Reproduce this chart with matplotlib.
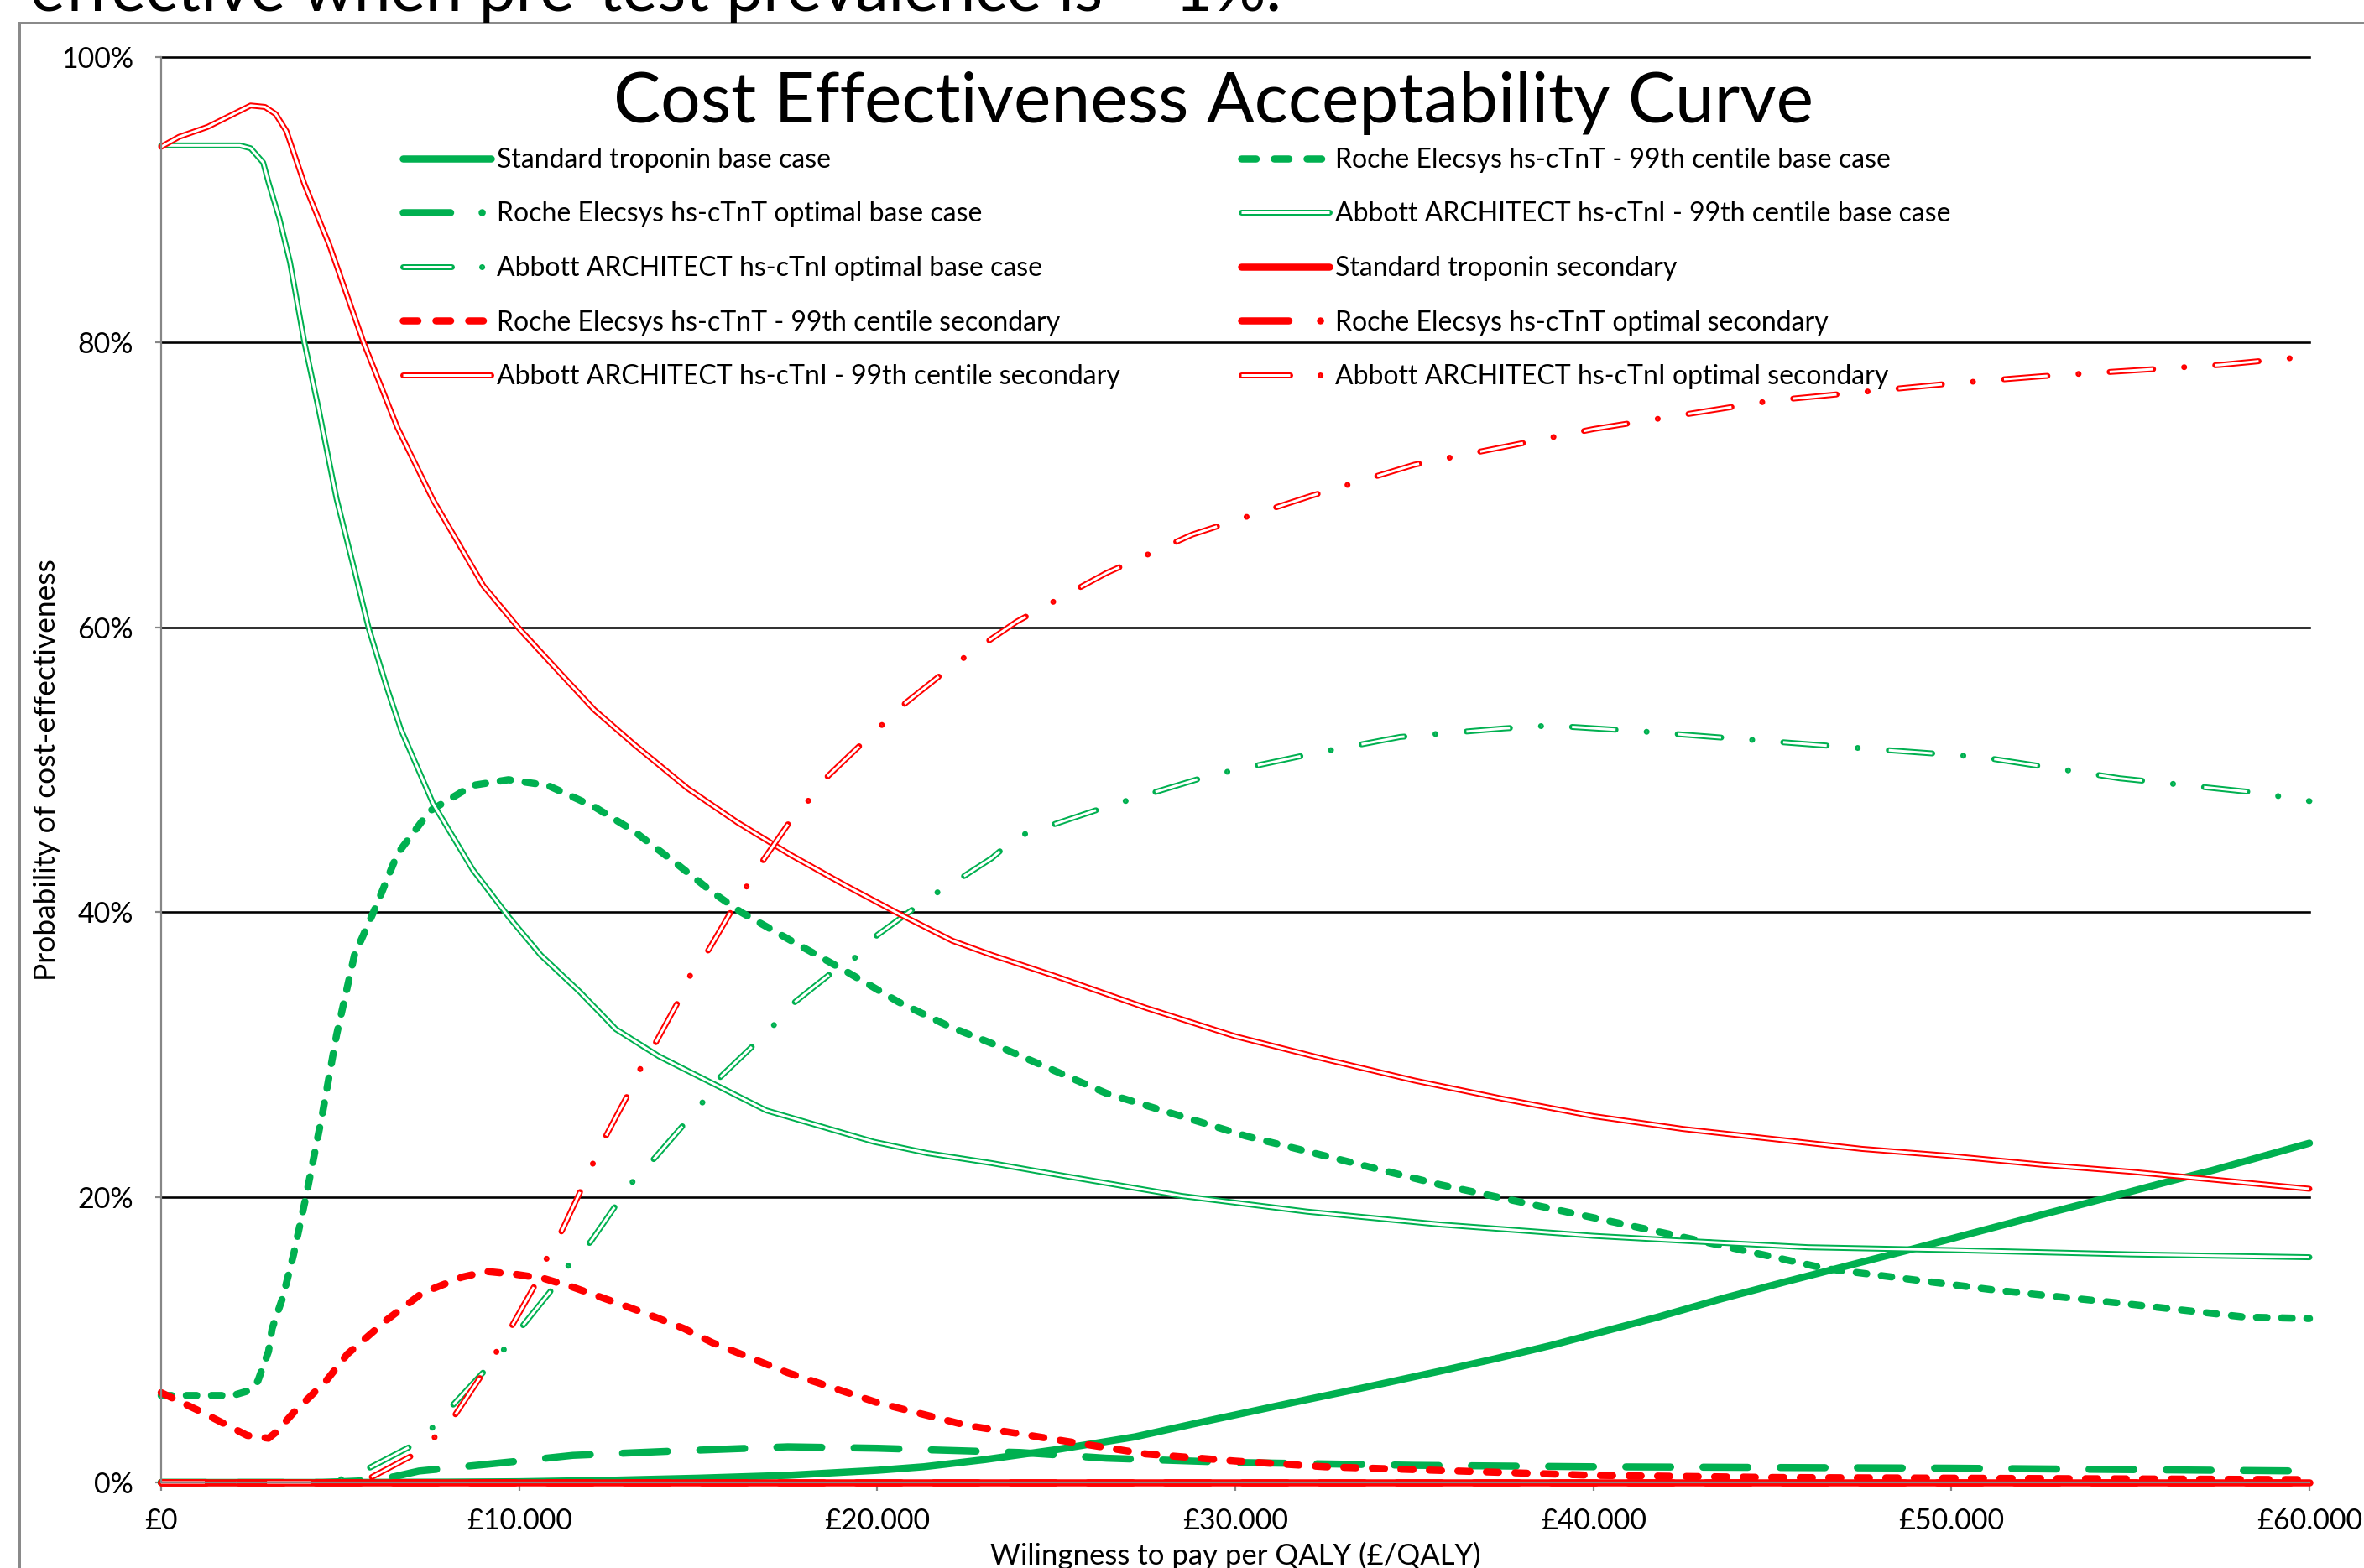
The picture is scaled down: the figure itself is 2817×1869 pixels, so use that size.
import matplotlib
matplotlib.use("Agg")
import matplotlib.pyplot as plt
from matplotlib.lines import Line2D
from matplotlib.patches import Rectangle

plt.rcParams['font.family'] = ['Lato', 'DejaVu Sans']
plt.rcParams['lines.scale_dashes'] = False

W, H = 2817, 1869
PX = 0.72  # points per pixel at dpi 100

GREEN = '#00B050'
RED = '#FF0000'
GREY = '#868686'

# ---- data (willingness to pay in £, probability in %) ----
labels = [
    "Standard troponin base case",
    "Roche Elecsys hs-cTnT - 99th centile base case",
    "Roche Elecsys hs-cTnT optimal base case",
    "Abbott ARCHITECT hs-cTnI - 99th centile base case",
    "Abbott ARCHITECT hs-cTnI optimal base case",
    "Standard troponin secondary",
    "Roche Elecsys hs-cTnT - 99th centile secondary",
    "Roche Elecsys hs-cTnT optimal secondary",
    "Abbott ARCHITECT hs-cTnI - 99th centile secondary",
    "Abbott ARCHITECT hs-cTnI optimal secondary",
]

std_base_x = [0, 5000, 8000, 10000, 12500, 15000, 17500, 20000, 21300, 23000, 25000,
              27200, 29000, 31600, 33500, 35700, 37300, 38800, 40300, 41800, 43600,
              45400, 47100, 48800, 50300, 52100, 54700, 56200, 57300, 60000]
std_base_y = [0, 0, 0.02, 0.05, 0.15, 0.3, 0.5, 0.85, 1.1, 1.6, 2.3,
              3.2, 4.2, 5.6, 6.6, 7.8, 8.7, 9.6, 10.6, 11.6, 12.9,
              14.1, 15.2, 16.3, 17.3, 18.5, 20.2, 21.2, 21.9, 23.8]

roche99_base_x = [0, 1000, 2000, 2400, 2700, 3000, 3100, 3400, 3700, 4050, 4500, 4900,
                  5400, 6000, 6600, 7500, 8700, 9700, 10800, 12100, 13200, 14400, 15400,
                  16200, 17600, 19100, 20600, 22000, 23200, 26400, 30300, 35700, 41800,
                  46500, 51200, 55000, 58200, 60000]
roche99_base_y = [6.1, 6.1, 6.1, 6.4, 7.1, 9.2, 10.8, 13.0, 16.0, 20.1, 25.8, 31.4,
                  37.0, 40.4, 44.1, 47.1, 48.9, 49.3, 48.9, 47.4, 45.7, 43.4, 41.4,
                  40.0, 38.0, 35.9, 33.7, 32.0, 30.8, 27.3, 24.3, 20.9, 17.6,
                  15.0, 13.5, 12.5, 11.6, 11.5]

roche_opt_base_x = [0, 4500, 5500, 6500, 7200, 10000, 11500, 14300, 17500, 20000, 21300,
                    24000, 26400, 30000, 35000, 40000, 45000, 50000, 55000, 60000]
roche_opt_base_y = [0, 0, 0.1, 0.4, 0.8, 1.5, 1.9, 2.2, 2.5, 2.4, 2.3,
                    2.1, 1.7, 1.4, 1.2, 1.1, 1.05, 1.0, 0.9, 0.8]

abbott99_base_x = [0, 2200, 2500, 2850, 3000, 3300, 3600, 4000, 4400, 4900, 5400, 5800,
                   6300, 6700, 7600, 8700, 9700, 10600, 11700, 12700, 13900, 15400, 16900,
                   18400, 19900, 21400, 23200, 25000, 28500, 32000, 35700, 40000, 42900,
                   46000, 50000, 55000, 60000]
abbott99_base_y = [93.8, 93.8, 93.6, 92.6, 91.2, 88.7, 85.6, 80.0, 75.3, 69.0, 64.0, 59.9,
                   55.8, 52.8, 47.6, 43.0, 39.7, 37.0, 34.4, 31.8, 29.9, 28.0, 26.1,
                   25.0, 23.9, 23.1, 22.4, 21.6, 20.1, 19.0, 18.1, 17.3, 16.9,
                   16.5, 16.3, 16.0, 15.8]

abbott_opt_base_x = [0, 4800, 5100, 5800, 7100, 7600, 8100, 9100, 9600, 10100, 11000, 11400,
                     12000, 12800, 13200, 13800, 14700, 15200, 15600, 16600, 17200, 17700,
                     18800, 19500, 20000, 21100, 21800, 22400, 23200, 23900, 26400, 29300,
                     32100, 34600, 37500, 38800, 41300, 44400, 47000, 50800, 54700, 58500,
                     60000]
abbott_opt_base_y = [0, 0, 0.3, 1.0, 2.7, 3.9, 5.3, 8.0, 9.4, 11.0, 13.8, 15.3,
                     16.9, 19.8, 21.2, 22.8, 25.4, 26.9, 28.4, 30.8, 32.3, 33.7,
                     35.9, 37.0, 38.4, 40.4, 41.6, 42.5, 43.8, 45.3, 47.4, 49.6,
                     51.1, 52.3, 52.9, 53.1, 52.7, 52.1, 51.6, 50.9, 49.4, 48.4,
                     47.8]

std_sec_x = [0, 60000]
std_sec_y = [0, 0]

roche99_sec_x = [0, 1000, 2400, 3000, 3200, 3700, 4600, 5200, 6300, 7300, 8400, 9100,
                 9900, 10700, 11500, 12500, 13600, 14600, 15400, 17500, 20000, 22500,
                 25000, 27500, 30000, 32500, 35000, 40000, 45000, 50000, 55000, 60000]
roche99_sec_y = [6.3, 5.1, 3.3, 3.1, 3.5, 4.9, 7.1, 9.0, 11.4, 13.3, 14.4, 14.8,
                 14.6, 14.3, 13.7, 12.8, 11.8, 10.8, 9.8, 7.7, 5.6, 4.0,
                 3.0, 2.0, 1.5, 1.1, 0.9, 0.5, 0.35, 0.3, 0.25, 0.2]

roche_opt_sec_x = [0, 60000]
roche_opt_sec_y = [0, 0]

abbott99_sec_x = [0, 500, 1300, 2100, 2500, 2900, 3200, 3500, 4000, 4700, 5650, 6600,
                  7600, 9000, 10000, 11100, 12100, 13200, 14700, 16100, 17600, 19100,
                  20600, 22100, 23200, 25000, 27500, 30000, 32500, 35000, 37500, 40000,
                  42500, 45000, 47500, 50000, 52500, 55000, 57500, 60000]
abbott99_sec_y = [93.7, 94.4, 95.1, 96.1, 96.6, 96.5, 96.0, 94.8, 91.1, 86.8, 80.0, 74.0,
                  68.9, 62.9, 59.9, 56.9, 54.2, 51.8, 48.7, 46.3, 44.0, 41.9,
                  39.9, 38.0, 37.0, 35.5, 33.3, 31.3, 29.7, 28.2, 26.9, 25.7,
                  24.8, 24.1, 23.4, 22.9, 22.3, 21.8, 21.2, 20.6]

abbott_opt_sec_x = [0, 5500, 5900, 7100, 7700, 8200, 9000, 9400, 9800, 10500, 10800, 11200,
                    11800, 12100, 12400, 13100, 13400, 13800, 14500, 14800, 15300, 16000,
                    16400, 16800, 17600, 18100, 18600, 19600, 20200, 20800, 21800, 22500,
                    23200, 23900, 26400, 28800, 32100, 35000, 38800, 40000, 42500, 45000,
                    47500, 50000, 52500, 55000, 57500, 60000]
abbott_opt_sec_y = [0, 0, 0.4, 2.0, 3.3, 4.7, 7.7, 9.3, 11.0, 14.1, 15.9, 17.7,
                    20.9, 22.6, 24.2, 27.5, 29.1, 30.8, 34.0, 35.7, 37.4, 40.4,
                    42.0, 43.6, 46.5, 47.9, 49.5, 51.9, 53.3, 54.7, 56.7, 58.0,
                    59.2, 60.4, 63.8, 66.5, 69.2, 71.4, 73.3, 73.9, 74.9, 75.9,
                    76.5, 77.1, 77.6, 78.0, 78.4, 79.0]

x_ticks = [0, 10000, 20000, 30000, 40000, 50000, 60000]
x_tick_labels = ["£0", "£10.000", "£20.000", "£30.000", "£40.000", "£50.000", "£60.000"]
y_ticks = [0, 20, 40, 60, 80, 100]
y_tick_labels = ["0%", "20%", "40%", "60%", "80%", "100%"]

# ---- line styles ----
LW = 8.5 * PX          # thick lines
LW_OUT = 7 * PX        # double line, outer
LW_IN = 3 * PX         # double line, white core

# dash patterns in points (caps are round, so "on" is shortened by the width)
DOT = ((21 - 8.5) * PX, (9 + 8.5) * PX)
DOT_RED = ((23 - 8.5) * PX, (11 + 8.5) * PX)
LONGDASH = ((62 - 8.5) * PX, (30 + 8.5) * PX)
DASHDOT_DBL = ((59 - 7) * PX, (30 + 7) * PX, 0.1, (30 + 7) * PX)
LEG_DOT = ((26 - 8.5) * PX, (13 + 8.5) * PX)
LEG_DASHDOT = ((65 - 8.5) * PX, (29 + 8.5) * PX, 0.1, 60 * PX)
LEG_DASHDOT_DBL = ((65 - 7) * PX, (29 + 7) * PX, 0.1, 60 * PX)

fig = plt.figure(figsize=(W / 100, H / 100), dpi=100)
ax = fig.add_axes([192 / W, 1 - 1767 / H, (2752 - 192) / W, (1767 - 68) / H])


def thick_kw(color, dashes=None):
    kw = dict(color=color, lw=LW, solid_capstyle='round', dash_capstyle='round',
              solid_joinstyle='round', dash_joinstyle='round')
    if dashes is not None:
        kw['dashes'] = dashes
    return kw


def double_kw(color, dashes=None):
    outer = dict(color=color, lw=LW_OUT, solid_capstyle='round', dash_capstyle='round',
                 solid_joinstyle='round', dash_joinstyle='round')
    inner = dict(color='white', lw=LW_IN, solid_capstyle='butt', dash_capstyle='butt',
                 solid_joinstyle='round', dash_joinstyle='round')
    if dashes is not None:
        outer['dashes'] = dashes
        inner['dashes'] = dashes
    return outer, inner


def plot_thick(x, y, color, dashes=None):
    ax.plot(x, y, clip_on=False, **thick_kw(color, dashes))


def plot_double(x, y, color, dashes=None):
    outer, inner = double_kw(color, dashes)
    ax.plot(x, y, clip_on=False, **outer)
    ax.plot(x, y, clip_on=False, **inner)


plot_thick(std_base_x, std_base_y, GREEN)
plot_thick(roche99_base_x, roche99_base_y, GREEN, DOT)
plot_thick(roche_opt_base_x, roche_opt_base_y, GREEN, LONGDASH)
plot_double(abbott99_base_x, abbott99_base_y, GREEN)
plot_double(abbott_opt_base_x, abbott_opt_base_y, GREEN, DASHDOT_DBL)
plot_thick(std_sec_x, std_sec_y, RED)
plot_thick(roche99_sec_x, roche99_sec_y, RED, DOT_RED)
plot_thick(roche_opt_sec_x, roche_opt_sec_y, RED, LONGDASH)
plot_double(abbott99_sec_x, abbott99_sec_y, RED)
plot_double(abbott_opt_sec_x, abbott_opt_sec_y, RED, DASHDOT_DBL)

# ---- axes ----
ax.set_xlim(0, 60000)
ax.set_ylim(0, 100)
ax.set_xticks(x_ticks)
ax.set_xticklabels(x_tick_labels)
ax.set_yticks(y_ticks)
ax.set_yticklabels(y_tick_labels)
for s in ['top', 'right']:
    ax.spines[s].set_visible(False)
for s in ['left', 'bottom']:
    ax.spines[s].set_color(GREY)
    ax.spines[s].set_linewidth(2.2 * PX)
ax.tick_params(axis='y', direction='out', length=7 * PX, width=2.2 * PX, color=GREY,
               pad=26 * PX, labelsize=24.5)
ax.tick_params(axis='x', direction='out', length=10 * PX, width=2.2 * PX, color=GREY,
               pad=20 * PX, labelsize=24.5)
for yv in y_ticks[1:]:
    ax.axhline(yv, color='black', lw=2.6 * PX, zorder=0.5, clip_on=False)

fig.text(56 / W, 1 - 918 / H, "Probability of cost-effectiveness", rotation=90,
         ha='center', va='center', fontsize=25.5)
fig.text(1472 / W, 1 - 1838 / H, "Wilingness to pay per QALY (£/QALY)",
         ha='center', va='top', fontsize=25)
fig.text(1446 / W, 1 - 146 / H, "Cost Effectiveness Acceptability Curve",
         ha='center', va='baseline', fontsize=60.5)
fig.text(36 / W, 1 - 13 / H, "effective when pre-test prevalence is ~ 1%.",
         ha='left', va='baseline', fontsize=56.5)

# chart frame
fig.patches.append(Rectangle((23 / W, -0.1), 1.2, 1 - 27 / H + 0.1,
                             transform=fig.transFigure, fill=False,
                             ec='#8a8a8a', lw=3 * PX))


# ---- legend (row-wise, two columns) ----
def leg_thick(color, dashes=None):
    return Line2D([], [], **thick_kw(color, dashes))


def leg_double(color, dashes=None):
    outer, inner = double_kw(color, dashes)
    return (Line2D([], [], **outer), Line2D([], [], **inner))


handles = [
    leg_thick(GREEN),
    leg_thick(GREEN, LEG_DOT),
    leg_thick(GREEN, LEG_DASHDOT),
    leg_double(GREEN),
    leg_double(GREEN, LEG_DASHDOT_DBL),
    leg_thick(RED),
    leg_thick(RED, LEG_DOT),
    leg_thick(RED, LEG_DASHDOT),
    leg_double(RED),
    leg_double(RED, LEG_DASHDOT_DBL),
]

FS_LEG = 23
for col, x0 in [(0, 480), (1, 1479)]:
    idx = list(range(col, 10, 2))
    leg = fig.legend([handles[i] for i in idx], [labels[i] for i in idx],
                     loc='upper left', bbox_to_anchor=(x0 / W, 1 - 176 / H),
                     frameon=False, fontsize=FS_LEG, borderpad=0, borderaxespad=0,
                     handlelength=105 / 31.9, handletextpad=0.2,
                     labelspacing=1.08, handleheight=0.7)

fig.savefig("out.png", dpi=100)
